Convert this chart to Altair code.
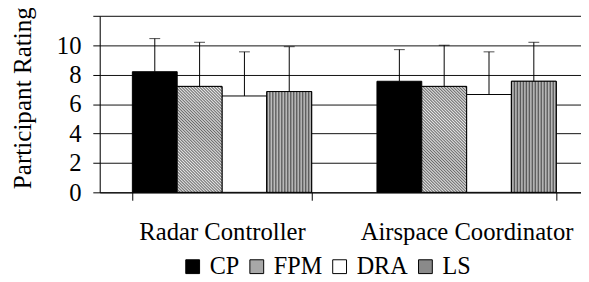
import altair as alt
import pandas as pd

categories = ["Radar Controller", "Airspace Coordinator"]
series = ["CP", "FPM", "DRA", "LS"]
rc_means = [8.2, 7.2, 6.55, 6.85]
rc_err = [2.25, 3.0, 3.0, 3.05]
ac_means = [7.55, 7.2, 6.65, 7.55]
ac_err = [2.15, 2.8, 2.9, 2.65]
legend_fills = ["#000000", "#a8a8a8", "#ffffff", "#8a8a8a"]
y_ticks = [0, 2, 4, 6, 8, 10, 12]

rows = []
for cat, means, errs in [(categories[0], rc_means, rc_err), (categories[1], ac_means, ac_err)]:
    for s, m, e in zip(series, means, errs):
        rows.append({"role": cat, "method": s, "mean": m, "upper": m + e})
df = pd.DataFrame(rows)

FONT = "Liberation Serif"


def wave_stops(n, c1, c2):
    stops = []
    for i in range(n):
        stops += [
            alt.GradientStop(offset=i / n, color=c1),
            alt.GradientStop(offset=(i + 0.5) / n, color=c2),
        ]
    stops.append(alt.GradientStop(offset=1, color=c1))
    return stops


fpm_grad = alt.LinearGradient(
    gradient="linear", stops=wave_stops(50, "#6a6a6a", "#e8e8e8"),
    x1=0, y1=1, x2=0.5, y2=-0.19,
)
ls_grad = alt.LinearGradient(
    gradient="linear", stops=wave_stops(15, "#505050", "#cccccc"),
    x1=0, y1=0, x2=1, y2=0,
)

x_enc = alt.X(
    "role:N",
    scale=alt.Scale(domain=categories, range=[0, 496], paddingInner=0.267, paddingOuter=0.1335),
    axis=alt.Axis(
        title=None, tickBand="extent", tickSize=8, labelPadding=40,
        labelBaseline="alphabetic", labelAngle=0, grid=False, labelLimit=400,
        domainColor="black", tickColor="black", labelColor="black",
        labelFont=FONT, labelFontSize=25,
    ),
)
xo_enc = alt.XOffset("method:N", scale=alt.Scale(domain=series, paddingInner=0, paddingOuter=0))
y_scale = alt.Scale(domain=[0, 12], nice=False)
y_axis = alt.Axis(
    values=y_ticks, labelExpr="datum.value == 12 ? '' : datum.label", labelOverlap=False,
    tickSize=7, labelPadding=12, labelFont=FONT, labelFontSize=25, labelColor="black",
    domainColor="black", tickColor="black", gridColor="#111111", grid=True,
    title="Participant Rating", titleFont=FONT, titleFontSize=25.5, titleFontWeight="normal",
    titleColor="black", titleX=-70, titleY=83, titleBaseline="alphabetic", titleAlign="center",
)
y_enc = alt.Y("mean:Q", scale=y_scale, axis=y_axis)

base = alt.Chart(df)

bars = base.mark_bar(stroke="black", strokeWidth=1).encode(
    x=x_enc, xOffset=xo_enc, y=y_enc,
    fill=alt.Fill(
        "method:N",
        scale=alt.Scale(domain=series, range=legend_fills),
        legend=alt.Legend(
            title=None, orient="none", legendX=82, legendY=242, direction="horizontal",
            symbolType="square", symbolSize=196, symbolStrokeColor="black", symbolStrokeWidth=1,
            labelFont=FONT, labelFontSize=24.5, labelColor="black", labelOffset=5,
            columnPadding=5, padding=0,
        ),
    ),
)

fpm_bars = base.transform_filter(alt.datum.method == "FPM").mark_bar(
    fill=fpm_grad, stroke="black", strokeWidth=1
).encode(x=x_enc, xOffset=xo_enc, y=y_enc)

ls_bars = base.transform_filter(alt.datum.method == "LS").mark_bar(
    fill=ls_grad, stroke="black", strokeWidth=1
).encode(x=x_enc, xOffset=xo_enc, y=y_enc)

err = base.mark_rule(color="black", strokeWidth=1).encode(
    x=x_enc, xOffset=xo_enc, y=alt.Y("mean:Q", scale=y_scale, axis=y_axis), y2="upper:Q"
)
caps = base.mark_tick(color="black", thickness=1, size=11).encode(
    x=x_enc, xOffset=xo_enc, y=alt.Y("upper:Q", scale=y_scale, axis=y_axis)
)

chart = alt.layer(bars, fpm_bars, ls_bars, err, caps).properties(
    width=488, height=179,
    autosize=alt.AutoSizeParams(type="none"),
    padding={"left": 93, "top": 6, "right": 0, "bottom": 89},
).configure_view(stroke=None).configure(background="white")

chart.save("out.html", embed_options={"renderer": "svg", "actions": False})
